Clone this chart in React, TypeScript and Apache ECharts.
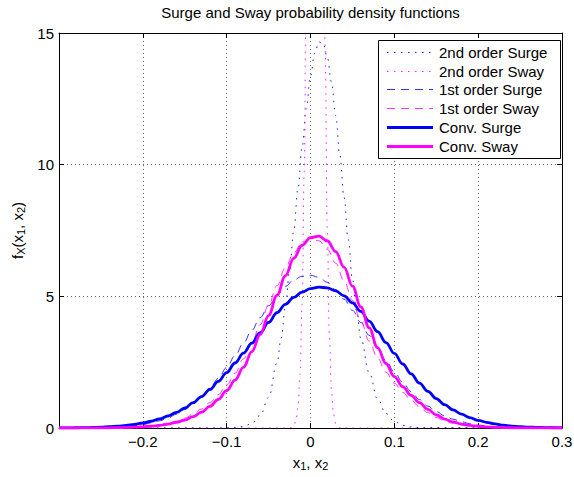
import React, { useEffect, useRef } from "react";
import * as echarts from "echarts";

const FONT = "'Liberation Sans', Arial, Helvetica, sans-serif";

const titleText = "Surge and Sway probability density functions";
const seriesNames = [
  "2nd order Surge",
  "2nd order Sway",
  "1st order Surge",
  "1st order Sway",
  "Conv. Surge",
  "Conv. Sway",
];
const xTickValues = [-0.2, -0.1, 0, 0.1, 0.2, 0.3];
const yTickValues = [0, 5, 10, 15];

// x positions of the wide curves
const xWide = [
  -0.3, -0.29, -0.28, -0.27, -0.26, -0.25, -0.24, -0.23, -0.22, -0.21,
  -0.2, -0.19, -0.18, -0.17, -0.16, -0.15, -0.14, -0.13, -0.12, -0.11,
  -0.1, -0.09, -0.08, -0.07, -0.06, -0.05, -0.04, -0.03, -0.02, -0.01,
  0, 0.01, 0.02, 0.03, 0.04, 0.05, 0.06, 0.07, 0.08, 0.09, 0.1,
  0.11, 0.12, 0.13, 0.14, 0.15, 0.16, 0.17, 0.18, 0.19, 0.2,
  0.21, 0.22, 0.23, 0.24, 0.25, 0.26, 0.27, 0.28, 0.29, 0.3,
];

const convSurge = [
  0.004, 0.006, 0.009, 0.014, 0.022, 0.032, 0.048, 0.069, 0.098, 0.137,
  0.189, 0.257, 0.345, 0.456, 0.593, 0.76, 0.96, 1.195, 1.465, 1.77,
  2.106, 2.469, 2.84, 3.22, 3.62, 4.01, 4.377, 4.694, 4.958, 5.161,
  5.293, 5.348, 5.322, 5.209, 5.016, 4.751, 4.427, 4.057, 3.659, 3.245, 2.831,
  2.43, 2.052, 1.705, 1.393, 1.119, 0.884, 0.688, 0.526, 0.396, 0.293,
  0.214, 0.153, 0.108, 0.075, 0.051, 0.034, 0.023, 0.015, 0.009, 0.006,
];

const convSway = [
  0.0002, 0.0004, 0.0008, 0.0015, 0.003, 0.005, 0.008, 0.013, 0.02, 0.03,
  0.045, 0.068, 0.1, 0.148, 0.21, 0.3, 0.43, 0.6, 0.82, 1.09,
  1.42, 1.82, 2.3, 2.9, 3.55, 4.27, 5.04, 5.78, 6.44, 6.94,
  7.23, 7.29, 7.11, 6.7, 6.11, 5.39, 4.6, 3.8, 3.05, 2.45, 1.95,
  1.57, 1.24, 0.96, 0.71, 0.5, 0.34, 0.23, 0.15, 0.1, 0.065,
  0.04, 0.025, 0.015, 0.009, 0.005, 0.003, 0.002, 0.001, 0.0005, 0.0003,
];

const firstSurge = [
  0.0011, 0.0019, 0.0034, 0.0057, 0.0095, 0.0154, 0.0246, 0.0386, 0.0594, 0.0896,
  0.132, 0.192, 0.273, 0.381, 0.523, 0.701, 0.924, 1.194, 1.514, 1.883,
  2.298, 2.748, 3.225, 3.713, 4.193, 4.644, 5.046, 5.378, 5.621, 5.764,
  5.798, 5.72, 5.536, 5.255, 4.894, 4.47, 4.005, 3.519, 3.033, 2.565, 2.127,
  1.73, 1.381, 1.081, 0.829, 0.625, 0.462, 0.335, 0.238, 0.166, 0.113,
  0.076, 0.05, 0.032, 0.02, 0.013, 0.008, 0.005, 0.003, 0.0017, 0.001,
];

const firstSway = [
  0.0003, 0.0006, 0.0012, 0.0024, 0.004, 0.0066, 0.011, 0.017, 0.026, 0.038,
  0.058, 0.086, 0.127, 0.183, 0.26, 0.373, 0.525, 0.722, 0.968, 1.27,
  1.637, 2.078, 2.623, 3.244, 3.926, 4.666, 5.407, 6.09, 6.65, 7.04,
  7.2, 7.11, 6.79, 6.26, 5.6, 4.85, 4.06, 3.3, 2.65, 2.12, 1.7,
  1.35, 1.06, 0.8, 0.58, 0.4, 0.27, 0.18, 0.12, 0.078, 0.05,
  0.031, 0.019, 0.011, 0.0066, 0.0038, 0.0024, 0.0014, 0.0007, 0.0004, 0.0002,
];

// 2nd order surge (narrow peak)
const xSurge2 = [
  -0.3, -0.1, -0.09, -0.08, -0.07, -0.06, -0.05, -0.04, -0.035, -0.03,
  -0.025, -0.02, -0.015, -0.01, -0.005, 0, 0.005, 0.01, 0.015, 0.02,
  0.025, 0.03, 0.035, 0.04, 0.045, 0.05, 0.055, 0.06, 0.07, 0.08,
  0.09, 0.1, 0.11, 0.12, 0.13, 0.3,
];
const surge2 = [
  0, 0.004, 0.015, 0.055, 0.17, 0.48, 1.16, 2.46, 3.41, 4.58,
  5.95, 7.47, 9.08, 10.67, 12.14, 13.37, 14.23, 14.66, 14.61, 14.09,
  13.15, 11.87, 10.36, 8.76, 7.16, 5.66, 4.45, 3.4, 2.1, 1.1,
  0.55, 0.25, 0.1, 0.04, 0.015, 0,
];

// 2nd order sway (very narrow peak, goes above the axis top)
const xSway2 = [
  -0.3, -0.03, -0.0275, -0.025, -0.0225, -0.02, -0.0175, -0.015, -0.0125, -0.01,
  -0.0075, -0.005, -0.0025, 0, 0.0025, 0.005, 0.0075, 0.01, 0.0125, 0.015,
  0.0175, 0.02, 0.0225, 0.025, 0.0275, 0.03, 0.0325, 0.035, 0.0375, 0.04, 0.3,
];
const sway2 = [
  0, 0.0002, 0.0009, 0.0046, 0.02, 0.076, 0.257, 0.767, 2.02, 4.71,
  9.69, 17.6, 28.3, 40.1, 50.3, 55.6, 54.4, 47.0, 35.9, 24.2,
  14.4, 7.58, 3.52, 1.45, 0.524, 0.168, 0.047, 0.012, 0.003, 0.0006, 0,
];

const zip = (xs: number[], ys: number[]) => xs.map((x, i) => [x, ys[i]]);

const BLUE = "#0000ff";
const MAGENTA = "#ff00ff";

const seriesStyles = [
  { color: BLUE, width: 0.9, dash: [1.5, 5.5] },
  { color: MAGENTA, width: 0.9, dash: [1.5, 5.5] },
  { color: BLUE, width: 0.8, dash: [8, 6] },
  { color: MAGENTA, width: 0.8, dash: [8, 6] },
  { color: BLUE, width: 2.8, dash: null },
  { color: MAGENTA, width: 2.8, dash: null },
];

const fmtX = (v: number) => {
  const r = Math.round(v * 10) / 10;
  if (!xTickValues.some((t) => Math.abs(t - r) < 1e-9)) return "";
  if (r === 0) return "0";
  return (r < 0 ? "\u2212" : "") + Math.abs(r).toFixed(1);
};
const fmtY = (v: number) => {
  const r = Math.round(v);
  return yTickValues.includes(r) ? String(r) : "";
};

const labelStyle = { fontSize: 15, color: "#000", fontFamily: FONT };
const subRich = {
  sub: { fontSize: 11, lineHeight: 10, verticalAlign: "bottom", color: "#000", fontFamily: FONT },
};
const gridLine = { show: true, lineStyle: { color: "#000", opacity: 0.6, width: 1, type: [1, 3] } };

function makeSeries(name: string, data: number[][], st: any) {
  return {
    name,
    type: "line",
    data,
    symbol: "none",
    smooth: 0.4,
    smoothMonotone: "x",
    clip: true,
    silent: true,
    emphasis: { disabled: true },
    itemStyle: { color: st.color },
    lineStyle: { color: st.color, width: st.width, type: st.dash ? st.dash.slice() : "solid", cap: "butt" },
  };
}

// legend box (drawn as graphic so that the samples are plain lines)
const LEG = { x: 378.5, y: 40.5, w: 182, h: 118, rowTop: 51.7, rowStep: 18.8, lineX1: 387, lineX2: 433, textX: 439 };
const legendElements: any[] = [
  {
    type: "rect",
    z: 100,
    silent: true,
    shape: { x: LEG.x, y: LEG.y, width: LEG.w, height: LEG.h },
    style: { fill: "#ffffff", stroke: "#000000", lineWidth: 1 },
  },
  ...seriesNames.flatMap((name, i) => {
    const cy = Math.round(LEG.rowTop + i * LEG.rowStep) + 0.5;
    const st = seriesStyles[i];
    return [
      {
        type: "polyline",
        z: 101,
        silent: true,
        shape: { points: [[LEG.lineX1, cy], [LEG.lineX2, cy]] },
        style: {
          stroke: st.color,
          fill: "none",
          lineWidth: st.width,
          lineDash: st.dash ? st.dash.slice() : null,
          lineCap: "butt",
        },
      },
      {
        type: "text",
        z: 101,
        silent: true,
        x: LEG.textX,
        y: cy,
        style: { text: name, fontSize: 15, fontFamily: FONT, fill: "#000", verticalAlign: "middle", align: "left" },
      },
    ];
  }),
];

const option: any = {
  animation: false,
  backgroundColor: "#ffffff",
  title: {
    text: titleText,
    left: 310.5,
    top: 5,
    padding: 0,
    textAlign: "center",
    textStyle: { fontSize: 15, fontWeight: "normal", color: "#000", fontFamily: FONT },
  },
  graphic: { elements: legendElements },
  grid: { left: 59, right: 12, top: 33, bottom: 49, containLabel: false, outerBoundsMode: "none" },
  xAxis: [
    {
      type: "value",
      min: -0.3,
      max: 0.3,
      interval: 0.1,
      position: "bottom",
      axisLine: { onZero: false, lineStyle: { color: "#000", width: 1 } },
      axisTick: { inside: true, length: 5, lineStyle: { color: "#000" } },
      axisLabel: { ...labelStyle, margin: 6, formatter: fmtX, showMinLabel: true, showMaxLabel: true },
      splitLine: gridLine,
      name: "x{sub|1}, x{sub|2}",
      nameLocation: "middle",
      nameGap: 25,
      nameTextStyle: { ...labelStyle, lineHeight: 18, rich: subRich },
    },
    {
      type: "value",
      min: -0.3,
      max: 0.3,
      interval: 0.1,
      position: "top",
      axisLine: { onZero: false, lineStyle: { color: "#000", width: 1 } },
      axisTick: { inside: true, length: 5, lineStyle: { color: "#000" } },
      axisLabel: { show: false },
      splitLine: { show: false },
    },
  ],
  yAxis: [
    {
      type: "value",
      min: 0,
      max: 15,
      interval: 5,
      position: "left",
      axisLine: { onZero: false, lineStyle: { color: "#000", width: 1 } },
      axisTick: { inside: true, length: 5, lineStyle: { color: "#000" } },
      axisLabel: { ...labelStyle, margin: 5, formatter: fmtY, showMinLabel: true, showMaxLabel: true },
      splitLine: gridLine,
      name: "f{sub|X}(x{sub|1}, x{sub|2})",
      nameLocation: "middle",
      nameRotate: 90,
      nameGap: 30,
      nameTextStyle: { ...labelStyle, lineHeight: 18, rich: subRich },
    },
    {
      type: "value",
      min: 0,
      max: 15,
      interval: 5,
      position: "right",
      axisLine: { onZero: false, lineStyle: { color: "#000", width: 1 } },
      axisTick: { inside: true, length: 5, lineStyle: { color: "#000" } },
      axisLabel: { show: false },
      splitLine: { show: false },
    },
  ],
  series: [
    makeSeries(seriesNames[0], zip(xSurge2, surge2), seriesStyles[0]),
    makeSeries(seriesNames[1], zip(xSway2, sway2), seriesStyles[1]),
    makeSeries(seriesNames[2], zip(xWide, firstSurge), seriesStyles[2]),
    makeSeries(seriesNames[3], zip(xWide, firstSway), seriesStyles[3]),
    makeSeries(seriesNames[4], zip(xWide, convSurge), seriesStyles[4]),
    makeSeries(seriesNames[5], zip(xWide, convSway), seriesStyles[5]),
  ],
};

export default function App() {
  const ref = useRef<HTMLDivElement>(null);
  useEffect(() => {
    if (!ref.current) return;
    const chart = echarts.init(ref.current, null, { renderer: "svg" });
    chart.setOption(option);
    return () => chart.dispose();
  }, []);
  return (
    <div
      ref={ref}
      style={{ position: "absolute", left: 0, top: 0, width: 574, height: 477, background: "#fff" }}
    />
  );
}
